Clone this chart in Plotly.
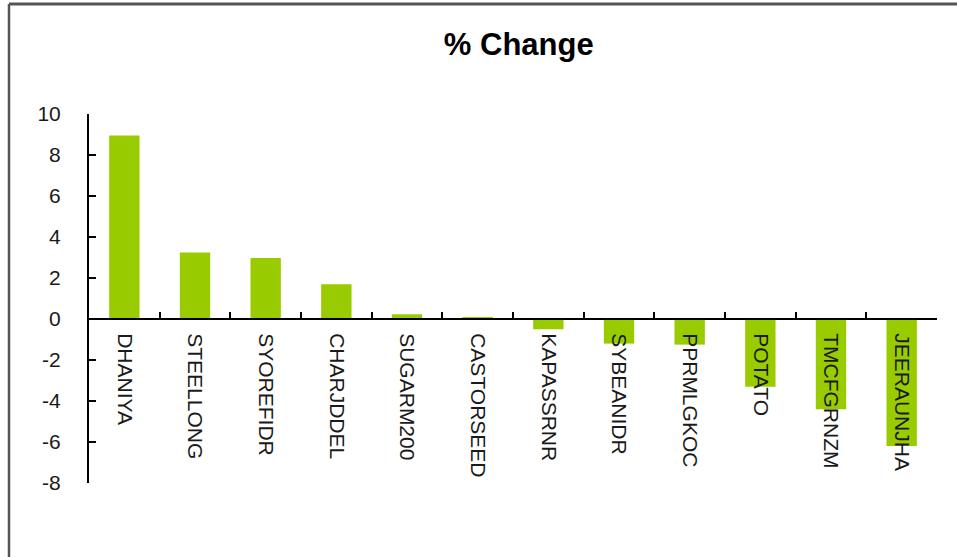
import plotly.graph_objects as go

categories = ["DHANIYA", "STEELLONG", "SYOREFIDR", "CHARJDDEL", "SUGARM200", "CASTORSEED",
              "KAPASSRNR", "SYBEANIDR", "PPRMLGKOC", "POTATO", "TMCFGRNZM", "JEERAUNJHA"]
pct_change = [8.95, 3.25, 2.97, 1.70, 0.23, 0.10, -0.50, -1.20, -1.25, -3.30, -4.40, -6.20]
y_ticks = [-8, -6, -4, -2, 0, 2, 4, 6, 8, 10]

Y_MIN, Y_MAX = -8, 10
W, H = 957, 557
L, R, T, B = 89, 20, 114, 74
pw, ph = W - L - R, H - T - B

def px_x(p):
    return (p - L) / pw

def px_y(p):
    return (H - B - p) / ph

fig = go.Figure()
fig.add_trace(go.Bar(x=categories, y=pct_change, marker_color="#99CC00",
                     marker_line_width=0, width=0.43))

fig.update_layout(
    width=W, height=H,
    margin=dict(l=L, r=R, t=T, b=B),
    paper_bgcolor="white", plot_bgcolor="white",
    font=dict(family="Liberation Sans, Arial", size=20, color="#111111"),
    title=dict(text="<b>% Change</b>", x=485 / W, xanchor="center", xref="paper",
               y=1 - 44 / H, yanchor="middle", font=dict(size=31, color="#000000")),
    showlegend=False,
    bargap=0.57,
    xaxis=dict(
        anchor="free", position=(0 - Y_MIN) / (Y_MAX - Y_MIN),
        showline=True, linecolor="#000000", linewidth=2,
        ticks="inside", ticklen=6, tickwidth=1.5, tickcolor="#000000",
        tickson="boundaries", tickangle=90, showgrid=False, zeroline=False,
        ticklabelstandoff=9,
        tickfont=dict(size=21, color="#1a1a1a"),
    ),
    yaxis=dict(
        range=[Y_MIN, Y_MAX], tickvals=y_ticks, ticktext=[str(v) for v in y_ticks],
        showline=True, linecolor="#000000", linewidth=2,
        ticks="inside", ticklen=7, tickwidth=1.5, tickcolor="#000000",
        showgrid=False, zeroline=False, ticklabelstandoff=22,
        tickfont=dict(size=21, color="#1a1a1a"),
    ),
)

# outer frame (left and top edges visible)
fig.add_shape(type="line", xref="paper", yref="paper",
              x0=px_x(9), x1=px_x(9), y0=px_y(4), y1=px_y(560),
              line=dict(color="#555555", width=2.5))
fig.add_shape(type="line", xref="paper", yref="paper",
              x0=px_x(9), x1=px_x(960), y0=px_y(4), y1=px_y(4),
              line=dict(color="#555555", width=3))

fig.write_html("out.html", config={"displayModeBar": False},
               post_script="document.body.style.margin='0';")
